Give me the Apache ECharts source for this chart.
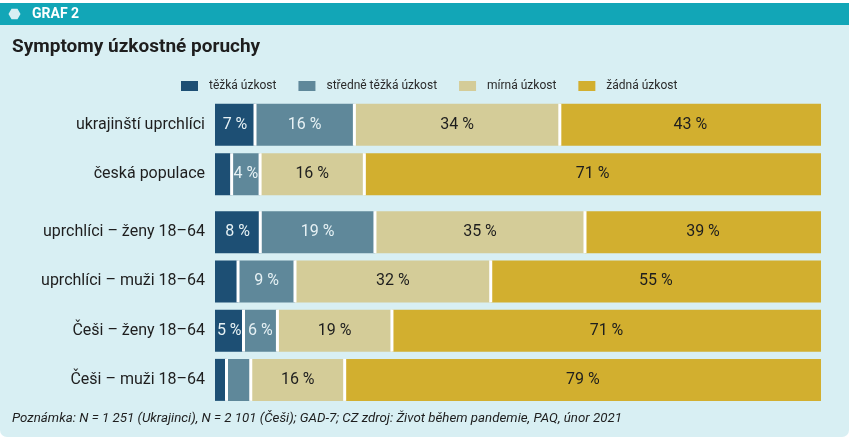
<!DOCTYPE html>
<html><head><meta charset="utf-8">
<script src="https://cdn.jsdelivr.net/npm/echarts@6/dist/echarts.min.js"></script>
<style>html,body{margin:0;padding:0;background:#fff}#c{width:849px;height:440px}</style>
</head><body><div id="c"></div>
<script>
const catsTop = ['ukrajinští uprchlíci', 'česká populace'];
const catsBottom = ['uprchlíci – ženy 18–64', 'uprchlíci – muži 18–64', 'Češi – ženy 18–64', 'Češi – muži 18–64'];
const seriesNames = ['těžká úzkost', 'středně těžká úzkost', 'mírná úzkost', 'žádná úzkost'];
// values per row (percent)
const tezka   = [6.6, 2.6, 7.5, 3.8, 4.7, 1.9];
const stredni = [16.4, 4.45, 19.0, 9.4, 5.6, 4.0];
const mirna   = [33.9, 16.3, 34.8, 32.3, 18.9, 15.5];
const zadna   = [43.1, 71.4, 39.1, 54.5, 70.8, 78.6];

const colors = ['#1d4f74', '#5f889a', '#d4cc98', '#d2af2f'];
const labelColors = ['#e6f1f4', '#e6f1f4', '#1e1e1e', '#1e1e1e'];
const FONT = 'Roboto';

const all = [tezka, stredni, mirna, zadna];
const totals = tezka.map((_, i) => all.reduce((s, a) => s + a[i], 0));
function shares(arr, from, to) {
  const out = [];
  for (let i = from; i < to; i++) out.push({ value: arr[i] / totals[i] * 100, raw: arr[i] });
  return out;
}

const series = [];
[[0, 2, 0], [2, 6, 1]].forEach(([from, to, g]) => {
  all.forEach((arr, k) => {
    series.push({
      type: 'bar', name: seriesNames[k], stack: 'g' + g,
      xAxisIndex: g, yAxisIndex: g, barWidth: 42,
      itemStyle: { color: colors[k] },
      label: {
        show: true, position: 'inside', color: labelColors[k],
        fontFamily: FONT, fontSize: 16,
        formatter: p => p.data.raw > 4.2 ? Math.round(p.data.raw) + ' %' : ''
      },
      data: shares(arr, from, to)
    });
  });
  // white separators between segments
  const sep = [];
  for (let i = from; i < to; i++) {
    let c = 0; const b = [i - from];
    for (let k = 0; k < 3; k++) { c += all[k][i] / totals[i] * 100; b.push(c); }
    sep.push(b);
  }
  series.push({
    type: 'custom', xAxisIndex: g, yAxisIndex: g, silent: true, z: 5,
    encode: { y: 0, x: [1, 2, 3] },
    renderItem: (params, api) => {
      const cat = api.value(0);
      const y = api.coord([0, cat])[1];
      const children = [];
      for (let j = 1; j <= 3; j++) {
        const x = api.coord([api.value(j), cat])[0];
        children.push({ type: 'rect', shape: { x: x - 1.5, y: y - 21, width: 3, height: 42 }, style: { fill: '#ffffff' } });
      }
      return { type: 'group', children };
    },
    data: sep
  });
});

const chart = echarts.init(document.getElementById('c'));
chart.setOption({
  animation: false,
  backgroundColor: '#ffffff',
  textStyle: { fontFamily: FONT },
  graphic: [
    { type: 'rect', shape: { x: 0, y: 3, width: 849, height: 434, r: [0, 0, 7, 7] }, style: { fill: '#d8eff3' }, z: -10 },
    { type: 'rect', shape: { x: 0, y: 3, width: 849, height: 22 }, style: { fill: '#12a6b7' }, z: -9 },
    { type: 'polygon', shape: { points: [[8.5, 14], [11.5, 8.8], [17.5, 8.8], [20.5, 14], [17.5, 19.2], [11.5, 19.2]] }, style: { fill: '#d8eff3' }, z: -8 },
    { type: 'text', x: 32, y: 14.5, style: { text: 'GRAF 2', fill: '#ffffff', font: 'bold 14px ' + FONT, textVerticalAlign: 'middle' } },
    { type: 'text', x: 12, y: 47, style: { text: 'Symptomy úzkostné poruchy', fill: '#1e1e1e', font: 'bold 19px ' + FONT, textVerticalAlign: 'middle' } },
    { type: 'text', x: 12, y: 419, style: { text: 'Poznámka: N = 1 251 (Ukrajinci), N = 2 101 (Češi); GAD-7; CZ zdroj: Život během pandemie, PAQ, únor 2021', fill: '#1e1e1e', font: 'italic 13.3px ' + FONT, textVerticalAlign: 'middle' } }
  ],
  legend: {
    data: seriesNames, left: 181, top: 80, padding: 0, icon: 'rect', itemWidth: 17, itemHeight: 10, itemGap: 22,
    textStyle: { fontSize: 12, color: '#2a2a2a', fontFamily: FONT, padding: [0, 0, 0, 6] },
    selectedMode: false
  },
  grid: [
    { left: 215, width: 606, top: 100, height: 99, containLabel: false },
    { left: 215, width: 606, top: 207.5, height: 197, containLabel: false }
  ],
  xAxis: [
    { gridIndex: 0, type: 'value', min: 0, max: 100, show: false },
    { gridIndex: 1, type: 'value', min: 0, max: 100, show: false }
  ],
  yAxis: [
    { gridIndex: 0, type: 'category', data: catsTop, inverse: true, axisLine: { show: false }, axisTick: { show: false },
      axisLabel: { fontSize: 16, color: '#1e1e1e', margin: 10, fontFamily: FONT } },
    { gridIndex: 1, type: 'category', data: catsBottom, inverse: true, axisLine: { show: false }, axisTick: { show: false },
      axisLabel: { fontSize: 16, color: '#1e1e1e', margin: 10, fontFamily: FONT } }
  ],
  series
});
</script></body></html>
